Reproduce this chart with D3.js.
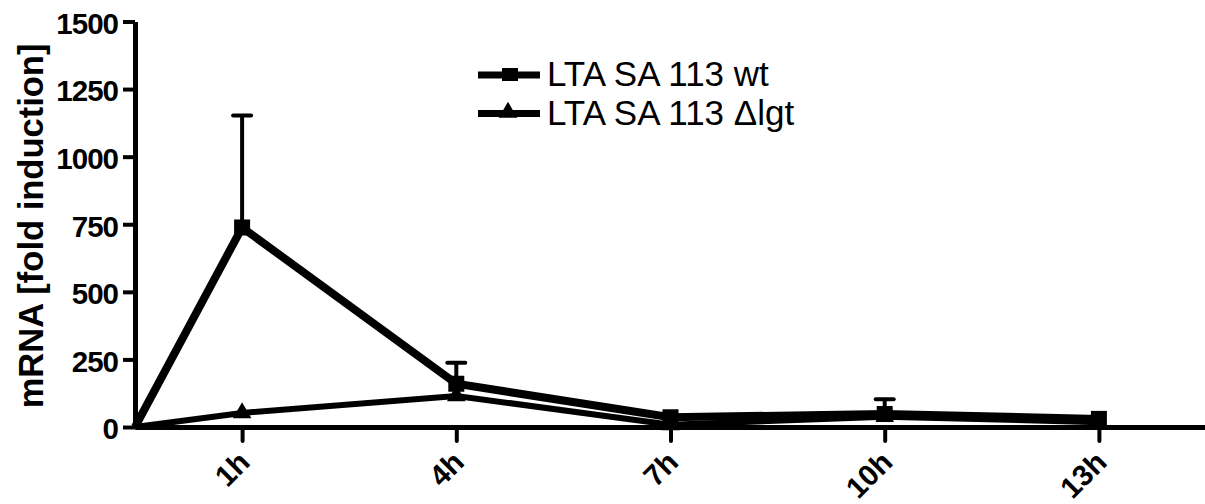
<!DOCTYPE html>
<html>
<head>
<meta charset="utf-8">
<script src="https://cdn.jsdelivr.net/npm/d3@7"></script>
<style>
  body { margin: 0; background: #fff; }
  svg text { font-family: "Liberation Sans", Arial, Helvetica, sans-serif; fill: #000; }
</style>
</head>
<body>
<svg id="chart"></svg>
<script>
var w = 1205;
var h = 504;

// data
var times = [-0.5, 1, 4, 7, 10, 13];
var tickTimes = [1, 4, 7, 10, 13];
var tickLabels = ["1h", "4h", "7h", "10h", "13h"];
var wtValues = [0, 738, 160, 36, 48, 30];
var wtErrors = [0, 414, 78, 0, 55, 0];
var lgtValues = [0, 52, 115, 8, 38, 18];
var yTicks = [0, 250, 500, 750, 1000, 1250, 1500];
var seriesNames = ["LTA SA 113 wt", "LTA SA 113 \u0394lgt"];

var svg = d3.select("#chart")
  .attr("width", w)
  .attr("height", h)

var x = d3.scaleLinear().domain([-0.5, 14.5]).range([135, 1206]);
var y = d3.scaleLinear().domain([0, 1500]).range([427, 21.5]);

// y axis
var yAxis = svg.append("g")
  .attr("transform", "translate(135,0)")
  .call(d3.axisLeft(y).tickValues(yTicks).tickSize(12).tickPadding(5).tickSizeOuter(0)
    .tickFormat(d3.format("d")))
yAxis.select(".domain").attr("stroke", "#000").attr("stroke-width", 5)
yAxis.selectAll(".tick line").attr("stroke", "#000").attr("stroke-width", 4)
yAxis.selectAll(".tick text")
  .style("font-size", "29.5px")
  .style("font-weight", "bold")
  .style("letter-spacing", "-1px")
  .attr("dy", "0.4em")

// x axis
var xAxis = svg.append("g")
  .attr("transform", "translate(0,427)")
  .call(d3.axisBottom(x).tickValues(tickTimes).tickSize(14).tickSizeOuter(0)
    .tickFormat(function(d, i) { return tickLabels[i]; }))
xAxis.select(".domain").attr("stroke", "#000").attr("stroke-width", 5)
xAxis.selectAll(".tick line").attr("stroke", "#000").attr("stroke-width", 4).attr("stroke-linecap", "round")
xAxis.selectAll(".tick text")
  .style("font-size", "29.5px")
  .style("font-weight", "bold")
  .attr("text-anchor", "end")
  .attr("y", 0)
  .attr("dy", 0)
  .attr("transform", "translate(9,37) rotate(-45)")

// y title
svg.append("text")
  .attr("transform", "translate(43,226) rotate(-90)")
  .attr("text-anchor", "middle")
  .style("font-size", "34.5px")
  .style("font-weight", "bold")
  .text("mRNA [fold induction]")

var line = d3.line()
  .x(function(d) { return x(d[0]); })
  .y(function(d) { return y(d[1]); })

var wt = times.map(function(t, i) { return [t, wtValues[i], wtErrors[i]]; });
var lgt = times.map(function(t, i) { return [t, lgtValues[i]]; });

// lgt series
svg.append("path")
  .datum(lgt)
  .attr("d", line)
  .attr("fill", "none")
  .attr("stroke", "#000")
  .attr("stroke-width", 6)

var tri = d3.symbol().type(d3.symbolTriangle).size(150);
svg.selectAll(".tri")
  .data(lgt.slice(1))
  .enter()
  .append("path")
  .attr("class", "tri")
  .attr("d", tri)
  .attr("transform", function(d) { return "translate(" + x(d[0]) + "," + y(d[1]) + ")"; })

// wt error bars
var errs = wt.filter(function(d) { return d[2] > 0; });
svg.selectAll(".err")
  .data(errs)
  .enter()
  .append("line")
  .attr("class", "err")
  .attr("x1", function(d) { return x(d[0]); })
  .attr("x2", function(d) { return x(d[0]); })
  .attr("y1", function(d) { return y(d[1]); })
  .attr("y2", function(d) { return y(d[1] + d[2]); })
  .attr("stroke", "#000")
  .attr("stroke-width", 4)
svg.selectAll(".cap")
  .data(errs)
  .enter()
  .append("line")
  .attr("class", "cap")
  .attr("x1", function(d) { return x(d[0]) - 9; })
  .attr("x2", function(d) { return x(d[0]) + 9; })
  .attr("y1", function(d) { return y(d[1] + d[2]); })
  .attr("y2", function(d) { return y(d[1] + d[2]); })
  .attr("stroke", "#000")
  .attr("stroke-width", 4)
  .attr("stroke-linecap", "round")

// wt series
svg.append("path")
  .datum(wt)
  .attr("d", line)
  .attr("fill", "none")
  .attr("stroke", "#000")
  .attr("stroke-width", 8)

svg.selectAll(".sq")
  .data(wt.slice(1))
  .enter()
  .append("rect")
  .attr("class", "sq")
  .attr("x", function(d) { return x(d[0]) - 8; })
  .attr("y", function(d) { return y(d[1]) - 8; })
  .attr("width", 16)
  .attr("height", 16)

// legend
var legend = svg.append("g").attr("transform", "translate(478,0)")
var rows = legend.selectAll(".row")
  .data(seriesNames)
  .enter()
  .append("g")
  .attr("class", "row")
  .attr("transform", function(d, i) { return "translate(0," + (75 + i * 38.5) + ")"; })
rows.append("line")
  .attr("x1", 0).attr("x2", 62)
  .attr("stroke", "#000")
  .attr("stroke-width", 7)
rows.filter(function(d, i) { return i === 0; })
  .append("rect")
  .attr("x", 24).attr("y", -7).attr("width", 16).attr("height", 13)
rows.filter(function(d, i) { return i === 1; })
  .append("path")
  .attr("d", tri)
  .attr("transform", "translate(30,-1)")
rows.append("text")
  .attr("x", 69)
  .attr("y", 11)
  .style("font-size", "35px")
  .text(function(d) { return d; })
</script>
</body>
</html>
